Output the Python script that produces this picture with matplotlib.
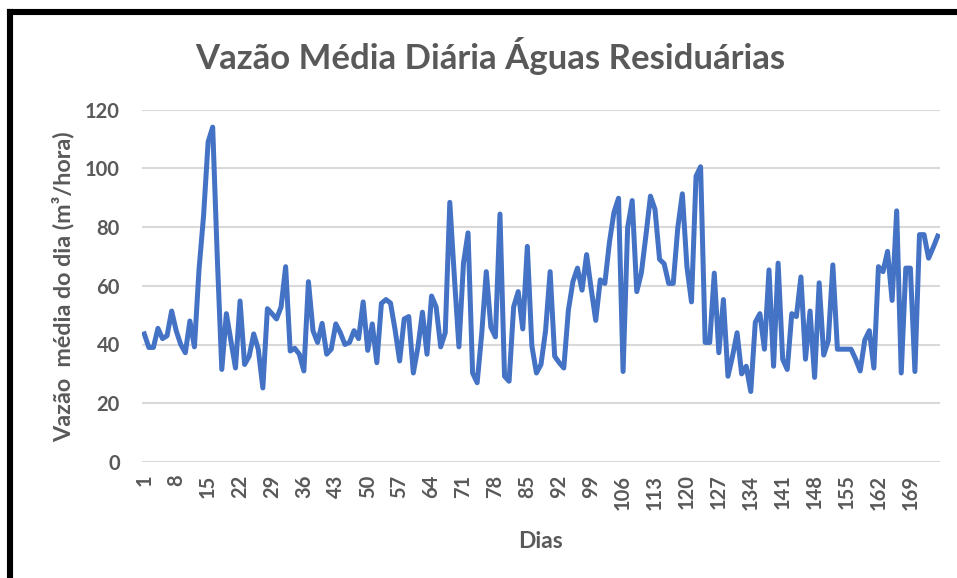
import numpy as np
import matplotlib
matplotlib.use("Agg")
import matplotlib.pyplot as plt
from matplotlib.lines import Line2D

# daily mean flow (m3/hora)
dias = np.arange(1, 176)
vazao = [
    43.6, 39, 39, 45.5, 42, 43, 51.4, 44.7, 40, 37.2, 48, 39.2, 65.4, 83.8, 109, 114, 70, 31.5, 50.5, 41.3,
    32, 54.8, 33.2, 36, 43.6, 38.4, 25.2, 52.2, 50.5, 48.7, 52.8, 66.5, 37.8, 38.7, 36.7, 31, 61.4, 44.7, 40.7, 47.2,
    36.7, 38.4, 47, 44, 40, 40.7, 44.7, 42, 54.5, 38, 47, 33.8, 54, 55.3, 54.1, 45, 34.4, 48.7, 49.5, 30.3,
    39, 51, 36.7, 56.5, 52.8, 39.2, 44, 88.4, 63, 39.2, 67.7, 78, 30.3, 27, 43.6, 64.8, 45.9, 42.6, 84.4, 29.2,
    27.5, 52.8, 58, 45.3, 73.4, 39.5, 30.3, 33.2, 44.7, 64.8, 36, 33.8, 32, 51.6, 61.4, 66, 58.5, 70.6, 59, 48.2,
    62, 60.8, 74.7, 85, 89.8, 30.8, 79.8, 89, 58, 64.3, 77, 90.5, 86, 69, 67.5, 60.8, 60.8, 79.8, 91.3, 66.5,
    54.5, 97.3, 100.5, 40.7, 40.7, 64.3, 37.2, 55.3, 29.2, 36, 44, 30, 32.6, 24, 47.6, 50.5, 38.4, 65.4, 32.6, 67.7,
    35, 31.5, 50.5, 49.5, 63, 35, 51.4, 28.8, 61, 36.4, 41.3, 67.1, 38.4, 38.4, 38.4, 38.4, 35, 31, 41.5, 44.7,
    32, 66.5, 64.8, 71.7, 55, 85.5, 30.3, 66, 66, 30.8, 77.4, 77.4, 69.4, 73, 76.9,
]
tick_dias = list(range(1, 176, 7))

plt.rcParams['font.family'] = ['Lato', 'DejaVu Sans']
cinza = '#595959'

fig = plt.figure(figsize=(9.57, 5.78), dpi=100)
ax = fig.add_axes([142/957, 1 - 462/578, 798/957, (462 - 109.5)/578])

ax.plot(dias, vazao, color='#4472C4', linewidth=3.6, solid_joinstyle='round', zorder=3)

ax.set_xlim(0.5, 175.5)
ax.set_ylim(0, 120)
ax.set_yticks(range(0, 121, 20))
ax.set_xticks(tick_dias)
ax.set_xticklabels([str(d) for d in tick_dias], rotation=90, fontsize=14.5,
                   fontweight='bold', color=cinza)
ax.tick_params(axis='x', length=0, pad=9)
ax.tick_params(axis='y', length=0, pad=16, labelsize=14.5, labelcolor=cinza)
for lab in ax.get_yticklabels():
    lab.set_fontweight('bold')
ax.grid(axis='y', color='#D9D9D9', linewidth=1.5)
ax.set_axisbelow(True)
for s in ax.spines.values():
    s.set_visible(False)

fig.text(490/957, 1 - 56/578, 'Vazão Média Diária Águas Residuárias', ha='center', va='center',
         fontsize=25, fontweight='bold', color=cinza)
fig.text(63/957, 1 - 287/578, 'Vazão  média do dia (m³/hora)', ha='center', va='center',
         rotation=90, fontsize=16.8, fontweight='bold', color=cinza)
fig.text(541/957, 1 - 541/578, 'Dias', ha='center', va='center',
         fontsize=16.5, fontweight='bold', color=cinza)

# black frame (top and left edges visible in the screenshot)
fig.add_artist(Line2D([10/957, 1.0], [1 - 12/578, 1 - 12/578], transform=fig.transFigure,
                      color='black', linewidth=4.4, solid_capstyle='projecting'))
fig.add_artist(Line2D([10/957, 10/957], [0.0, 1 - 12/578], transform=fig.transFigure,
                      color='black', linewidth=4.4, solid_capstyle='projecting'))

plt.savefig('out.png', dpi=100)
